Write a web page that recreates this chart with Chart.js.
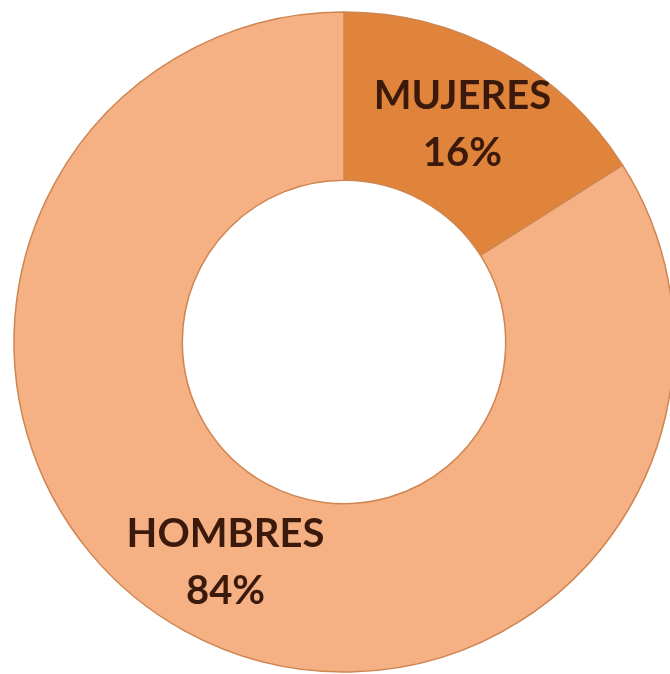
<!DOCTYPE html>
<html>
<head>
<meta charset="utf-8">
<script src="https://cdn.jsdelivr.net/npm/chart.js@4"></script>
<style>
  html, body { margin: 0; padding: 0; background: #fff; overflow: hidden; }
  #wrap { position: absolute; left: 0; top: 0; width: 688px; height: 684px; }
</style>
</head>
<body>
<div id="wrap"><canvas id="chart"></canvas></div>
<script>
const categories = ['MUJERES', 'HOMBRES'];
const percentages = [16, 84];
const sliceColors = ['#E0843C', '#F5B184'];

// draw the two-line labels at each slice centroid
const sliceLabels = {
    id: 'sliceLabels',
    afterDatasetsDraw(chart) {
        const ctx = chart.ctx;
        const meta = chart.getDatasetMeta(0);
        ctx.save();
        ctx.fillStyle = '#3B1A0C';
        ctx.textAlign = 'center';
        ctx.textBaseline = 'middle';
        ctx.font = 'bold 40px Lato';
        meta.data.forEach((arc, i) => {
            const pos = arc.tooltipPosition();
            const dy = i === 1 ? 5 : -2;
            ctx.fillText(categories[i], pos.x, pos.y - 28 + dy);
            ctx.fillText(percentages[i] + '%', pos.x, pos.y + 29 + dy);
        });
        ctx.restore();
    }
};

new Chart(document.getElementById('chart').getContext('2d'), {
    type: 'doughnut',
    data: {
        labels: categories,
        datasets: [{
            data: percentages,
            backgroundColor: sliceColors,
            borderColor: '#CF8550',
            borderWidth: 1.5
        }]
    },
    options: {
        responsive: true,
        maintainAspectRatio: false,
        animation: false,
        radius: 330,
        cutout: '49%',
        events: [],
        plugins: {
            legend: { display: false },
            tooltip: { enabled: false }
        }
    },
    plugins: [sliceLabels]
});
</script>
</body>
</html>
